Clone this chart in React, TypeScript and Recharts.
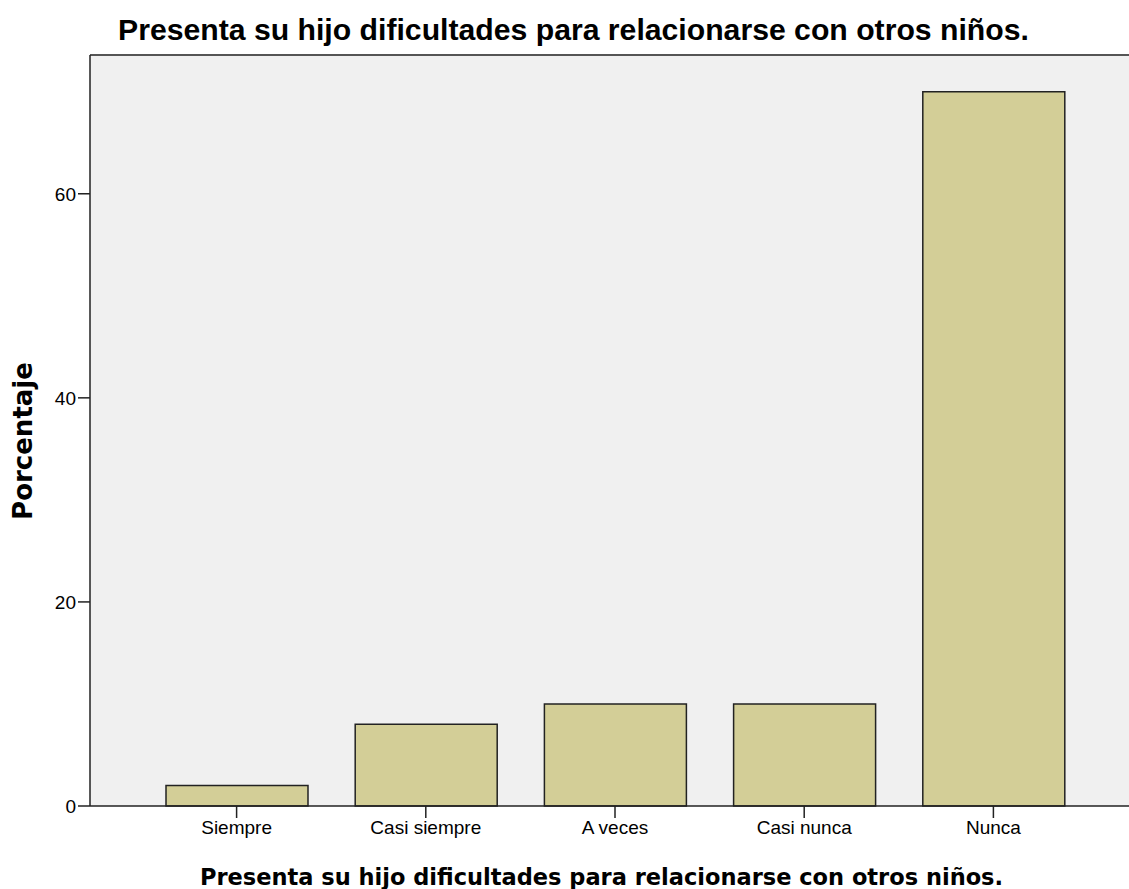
import { BarChart, Bar, XAxis, YAxis, CartesianGrid, ReferenceLine } from 'recharts'

const categories = ['Siempre', 'Casi siempre', 'A veces', 'Casi nunca', 'Nunca']
const percentages = [2, 8, 10, 10, 70]
const yTicks = [0, 20, 40, 60]
const yMax = 73.6

const title = 'Presenta su hijo dificultades para relacionarse con otros niños.'

const data = categories.map((name, i) => ({ name, value: percentages[i] }))

const tickFont = '"Liberation Sans", Arial, sans-serif'
const labelFont = '"DejaVu Sans", Verdana, sans-serif'

export default function App() {
    return (
        <div style={{ position: 'absolute', left: 0, top: 0, width: 1129, height: 889, background: '#fff', overflow: 'hidden' }}>
            <div style={{ position: 'absolute', left: 118, top: 14, whiteSpace: 'nowrap', fontFamily: tickFont, fontWeight: 'bold', fontSize: 30.2, lineHeight: '32px', color: '#000' }}>
                {title}
            </div>
            {/* y axis title, rotated by hand so it can sit off-centre like the original */}
            <div style={{ position: 'absolute', left: 23, top: 441, transform: 'translate(-50%, -50%) rotate(-90deg)', whiteSpace: 'nowrap', fontFamily: labelFont, fontWeight: 'bold', fontSize: 26, lineHeight: '28px', color: '#000', zIndex: 1 }}>
                Porcentaje
            </div>
            <BarChart width={1129} height={889} data={data} margin={{ top: 55, right: 0, bottom: 0, left: 0 }} barSize={142}>
                <CartesianGrid fill="#F0F0F0" horizontal={false} vertical={false} />
                <ReferenceLine y={yMax} stroke="#555" strokeWidth={2} />
                <XAxis
                    dataKey="name"
                    height={83}
                    padding={{ left: 52, right: 41 }}
                    stroke="#222"
                    strokeWidth={1.5}
                    tickSize={12}
                    tick={{ fill: '#000', fontSize: 19, fontFamily: tickFont }}
                    tickMargin={3}
                    label={{ value: title, position: 'insideBottom', offset: 4, fill: '#000', fontSize: 22.5, fontWeight: 'bold', fontFamily: labelFont, dx: -8 }}
                />
                <YAxis
                    domain={[0, yMax]}
                    ticks={yTicks}
                    width={90}
                    stroke="#222"
                    strokeWidth={1.5}
                    tickSize={12}
                    tick={{ fill: '#000', fontSize: 19, fontFamily: tickFont }}
                    tickMargin={2}
                />
                <Bar dataKey="value" fill="#D3CE97" stroke="#222" strokeWidth={1.5} isAnimationActive={false} />
            </BarChart>
        </div>
    )
}
